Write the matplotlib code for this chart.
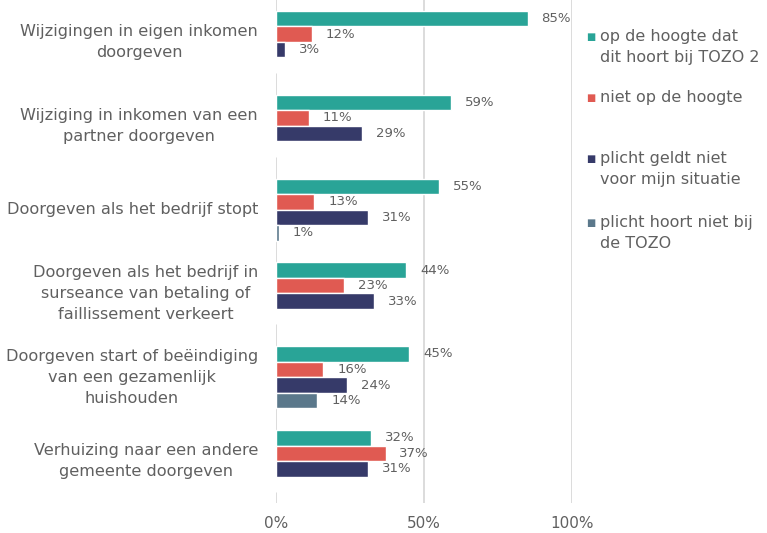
import numpy as np
import matplotlib.pyplot as plt

plt.rcParams['font.family'] = ['DejaVu Sans']

categories = [
    "Wijzigingen in eigen inkomen\ndoorgeven",
    "Wijziging in inkomen van een\npartner doorgeven",
    "Doorgeven als het bedrijf stopt",
    "Doorgeven als het bedrijf in\nsurseance van betaling of\nfaillissement verkeert",
    "Doorgeven start of beëindiging\nvan een gezamenlijk\nhuishouden",
    "Verhuizing naar een andere\ngemeente doorgeven",
]
series_names = [
    "op de hoogte dat\ndit hoort bij TOZO 2",
    "niet op de hoogte",
    "plicht geldt niet\nvoor mijn situatie",
    "plicht hoort niet bij\nde TOZO",
]
op_de_hoogte = [85, 59, 55, 44, 45, 32]
niet_op_de_hoogte = [12, 11, 13, 23, 16, 37]
plicht_geldt_niet = [3, 29, 31, 33, 24, 31]
plicht_hoort_niet = [0, 0, 1, 0, 14, 0]
series = [op_de_hoogte, niet_op_de_hoogte, plicht_geldt_niet, plicht_hoort_niet]
colors = ['#29A497', '#E05A52', '#363A69', '#5B788B']
xticks = [0, 50, 100]
xtick_labels = ['0%', '50%', '100%']

text_color = '#606060'
W, H = 767, 533
fig = plt.figure(figsize=(W / 100, H / 100), dpi=100)
ax = fig.add_axes([276 / W, 1 - 503 / H, 296 / W, 503 / H])

y = np.arange(len(categories))
pitch = 0.185
for i, (vals, col) in enumerate(zip(series, colors)):
    pos = y + (i - 1.5) * pitch
    ax.barh(pos, vals, height=pitch, color=col, edgecolor='white', linewidth=1, zorder=3)
    for p, v in zip(pos, vals):
        if v > 0:
            ax.annotate(f"{v}%", (v, p), xytext=(10, 0), textcoords='offset points',
                        ha='left', va='center', fontsize=9.5, color=text_color)

ax.set_xlim(0, 100)
ax.set_ylim(len(categories) - 0.5, -0.5)
ax.set_xticks(xticks)
ax.set_xticklabels(xtick_labels, fontsize=11, color=text_color)
ax.set_yticks(y)
ax.set_yticklabels(categories, fontsize=11.6, color=text_color)
for lbl in ax.get_yticklabels():
    lbl.set_multialignment('center')
    lbl.set_linespacing(1.5)
    lbl.set_verticalalignment('center')
ax.tick_params(axis='y', length=0, pad=13)
ax.tick_params(axis='x', length=0, pad=9)
ax.grid(axis='x', color='#d9d9d9', linewidth=1.3, zorder=0)
for s in ax.spines.values():
    s.set_visible(False)

# legend, drawn by hand to follow the original's spacing
legend_tops = [29, 90, 151, 215]
for name, col, top in zip(series_names, colors, legend_tops):
    fig.text(591 / W, 1 - (top + 8) / H, '■', color=col, fontsize=7,
             ha='center', va='center')
    fig.text(600 / W, 1 - top / H, name, color=text_color, fontsize=11.5,
             ha='left', va='top', linespacing=1.5)

fig.savefig('out.png', dpi=100)
